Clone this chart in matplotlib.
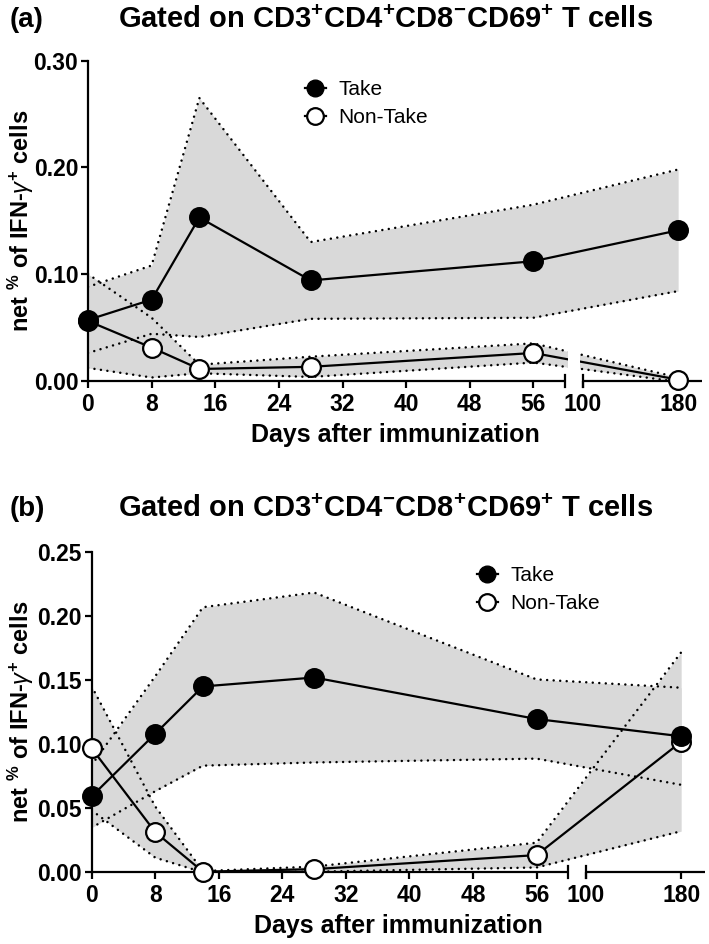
import numpy as np
import matplotlib
matplotlib.use('Agg')
import matplotlib.pyplot as plt
from matplotlib.lines import Line2D

plt.rcParams['font.family'] = ['Liberation Sans', 'DejaVu Sans']
plt.rcParams['mathtext.fontset'] = 'custom'
plt.rcParams['mathtext.rm'] = 'Liberation Sans'
plt.rcParams['mathtext.bf'] = 'Liberation Sans:bold'
plt.rcParams['mathtext.it'] = 'Liberation Sans:italic'

# days after immunization
days = [0, 8, 14, 28, 56, 180]
xticks = [0, 8, 16, 24, 32, 40, 48, 56, 100, 180]

# (a) CD4+ : mean and SEM
take_a = [0.057, 0.076, 0.153, 0.094, 0.112, 0.141]
take_a_sem = [0.031, 0.032, 0.112, 0.036, 0.053, 0.057]
nontake_a = [0.056, 0.031, 0.011, 0.013, 0.026, 0.001]
nontake_a_sem = [0.044, 0.028, 0.004, 0.0095, 0.009, 0.002]

# (b) CD8+ : mean and SEM
take_b = [0.059, 0.108, 0.145, 0.152, 0.1195, 0.106]
take_b_sem = [0.0245, 0.045, 0.062, 0.0665, 0.031, 0.038]
nontake_b = [0.0965, 0.031, 0.000, 0.002, 0.013, 0.1017]
nontake_b_sem = [0.0485, 0.02, 0.0005, 0.002, 0.0097, 0.07]

W, H = 709, 944
GREY = '#d9d9d9'


def xpos(d):
    # broken x axis: 0-60 full scale, 100-200 compressed
    d = np.asarray(d, float)
    return np.where(d <= 60, d, 62.2 + (d - 100) * 0.15)


def panel(rect, take, take_sem, non, non_sem, ymax, ystep, leg_xy, gap=False):
    l, t, r, b = rect
    ax = fig.add_axes([l / W, 1 - b / H, (r - l) / W, (b - t) / H])
    x = xpos(days)
    series = [(np.array(non), np.array(non_sem)), (np.array(take), np.array(take_sem))]
    for m, s in series:
        ax.fill_between(x, m - s, m + s, color=GREY, lw=0, zorder=1)
    for m, s in series:
        for edge in (m + s, m - s):
            ax.plot(x, edge, color='k', lw=1.8, ls=(0, (0.01, 2.6)),
                    dash_capstyle='round', zorder=2)
    ax.plot(x, non, '-o', color='k', mfc='white', mec='k', ms=13.5, mew=1.6,
            lw=1.6, zorder=4, clip_on=False)
    ax.plot(x, take, '-o', color='k', mfc='k', mec='k', ms=13.5, mew=1.6,
            lw=1.6, zorder=5, clip_on=False)
    if gap:
        ax.axvspan(60.3, 61.9, ymin=0.005, ymax=0.12, color='white', lw=0, zorder=4.5)

    xend = 77.2
    ax.set_xlim(0, xend)
    ax.set_ylim(0, ymax)
    for sp in ('top', 'right', 'bottom'):
        ax.spines[sp].set_visible(False)
    ax.spines['left'].set_linewidth(1.6)
    # x axis drawn as two segments with end caps
    c = ymax * 6 / (b - t)
    ax.plot([0, 60], [0, 0], color='k', lw=1.6, zorder=3, clip_on=False, solid_capstyle='butt')
    ax.plot([xpos(100), xend], [0, 0], color='k', lw=1.6, zorder=3, clip_on=False,
            solid_capstyle='butt')
    for cx in (60, float(xpos(100))):
        ax.plot([cx, cx], [-c, c], color='k', lw=1.6, zorder=3, clip_on=False)

    ax.set_xticks(xpos(xticks))
    ax.set_xticklabels([str(v) for v in xticks])
    yt = np.arange(0, ymax + 1e-9, ystep)
    ax.set_yticks(yt)
    ax.set_yticklabels(['%.2f' % v for v in yt])
    ax.tick_params(length=5, width=1.6, labelsize=16.5, pad=2)
    ax.tick_params(axis='x', pad=4)
    for lab in ax.get_xticklabels() + ax.get_yticklabels():
        lab.set_fontweight('bold')

    ax.set_xlabel('Days after immunization', fontsize=18, fontweight='bold', va='center')
    ax.xaxis.set_label_coords(0.5, -54 / (b - t))
    ax.set_ylabel(r'net $^{\mathbf{\%}}$ of IFN-$\gamma^{\mathbf{+}}$ cells', fontsize=17,
                  fontweight='bold', va='center')
    ax.yaxis.set_label_coords(-(l - 21) / (r - l), 0.5)

    handles = [Line2D([], [], color='k', marker='o', mfc='k', mec='k', ms=12, lw=1.6),
               Line2D([], [], color='k', marker='o', mfc='white', mec='k', ms=12, mew=1.6, lw=1.6)]
    fig.legend(handles, ['Take', 'Non-Take'], loc='center left',
               bbox_to_anchor=(leg_xy[0] / W, 1 - leg_xy[1] / H), frameon=False,
               fontsize=15, handlelength=1.0, handletextpad=0.6, labelspacing=0.45,
               borderpad=0, borderaxespad=0)
    return ax


fig = plt.figure(figsize=(W / 100, H / 100), dpi=100)

panel((88, 60.7, 702, 380.7), take_a, take_a_sem, nontake_a, nontake_a_sem,
      0.30, 0.10, (305, 103.5), gap=True)
panel((91.7, 552.3, 705, 871.7), take_b, take_b_sem, nontake_b, nontake_b_sem,
      0.25, 0.05, (477, 589.5))

title_a = r'Gated on CD3$^{\mathbf{+}}$CD4$^{\mathbf{+}}$CD8$^{\mathbf{-}}$CD69$^{\mathbf{+}}$ T cells'
title_b = r'Gated on CD3$^{\mathbf{+}}$CD4$^{\mathbf{-}}$CD8$^{\mathbf{+}}$CD69$^{\mathbf{+}}$ T cells'
for lab, ttl, yc in (('(a)', title_a, 20), ('(b)', title_b, 509)):
    fig.text(10 / W, 1 - yc / H, lab, fontsize=20, fontweight='bold', va='center', ha='left')
    fig.text(386 / W, 1 - yc / H, ttl, fontsize=21, fontweight='bold', va='center', ha='center')

fig.savefig('out.png', dpi=100)
